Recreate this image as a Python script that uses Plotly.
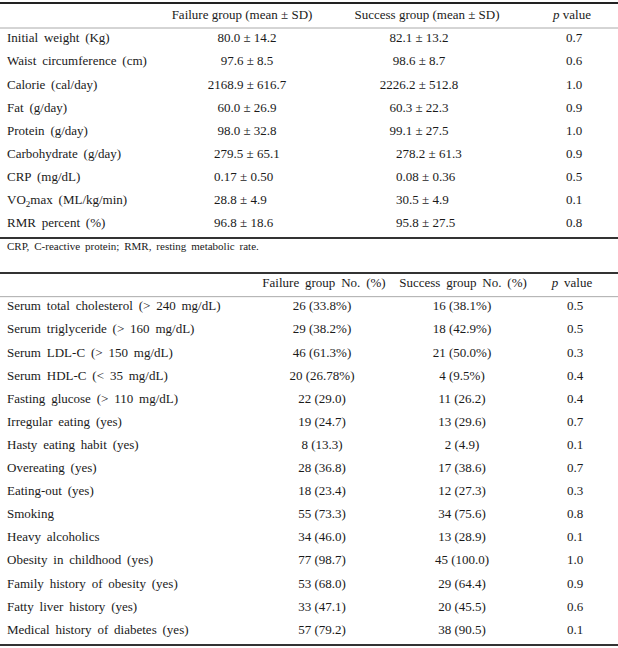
import plotly.graph_objects as go

# Table 1: anthropometric / dietary measures
t1_labels = ["Initial weight (Kg)", "Waist circumference (cm)", "Calorie (cal/day)",
             "Fat (g/day)", "Protein (g/day)", "Carbohydrate (g/day)", "CRP (mg/dL)",
             "VO<sub>2</sub>max (ML/kg/min)", "RMR percent (%)"]
t1_fail = ["80.0 ± 14.2", "97.6 ± 8.5", "2168.9 ± 616.7", "60.0 ± 26.9", "98.0 ± 32.8",
           "279.5 ± 65.1", "0.17 ± 0.50", "28.8 ± 4.9", "96.8 ± 18.6"]
t1_succ = ["82.1 ± 13.2", "98.6 ± 8.7", "2226.2 ± 512.8", "60.3 ± 22.3", "99.1 ± 27.5",
           "278.2 ± 61.3", "0.08 ± 0.36", "30.5 ± 4.9", "95.8 ± 27.5"]
t1_p = ["0.7", "0.6", "1.0", "0.9", "1.0", "0.9", "0.5", "0.1", "0.8"]
t1_head = ["Failure group (mean ± SD)", "Success group (mean ± SD)", "<i>p</i> value"]
t1_note = "CRP, C-reactive protein; RMR, resting metabolic rate."

# Table 2: risk factors
t2_labels = ["Serum total cholesterol (> 240 mg/dL)", "Serum triglyceride (> 160 mg/dL)",
             "Serum LDL-C (> 150 mg/dL)", "Serum HDL-C (< 35 mg/dL)",
             "Fasting glucose (> 110 mg/dL)", "Irregular eating (yes)",
             "Hasty eating habit (yes)", "Overeating (yes)", "Eating-out (yes)", "Smoking",
             "Heavy alcoholics", "Obesity in childhood (yes)", "Family history of obesity (yes)",
             "Fatty liver history (yes)", "Medical history of diabetes (yes)"]
t2_fail = ["26 (33.8%)", "29 (38.2%)", "46 (61.3%)", "20 (26.78%)", "22 (29.0)", "19 (24.7)",
           "8 (13.3)", "28 (36.8)", "18 (23.4)", "55 (73.3)", "34 (46.0)", "77 (98.7)",
           "53 (68.0)", "33 (47.1)", "57 (79.2)"]
t2_succ = ["16 (38.1%)", "18 (42.9%)", "21 (50.0%)", "4 (9.5%)", "11 (26.2)", "13 (29.6)",
           "2 (4.9)", "17 (38.6)", "12 (27.3)", "34 (75.6)", "13 (28.9)", "45 (100.0)",
           "29 (64.4)", "20 (45.5)", "38 (90.5)"]
t2_p = ["0.5", "0.5", "0.3", "0.4", "0.4", "0.7", "0.1", "0.7", "0.3", "0.8", "0.1", "1.0",
        "0.9", "0.6", "0.1"]
t2_head = ["Failure group No. (%)", "Success group No. (%)", "<i>p</i> value"]

W, H = 618, 648
ROW = 23.1          # px per row
Y0 = 16             # px of first header row
T2 = 11.6           # row offset of table 2 header
FONT = dict(family="Liberation Serif, DejaVu Serif, serif", size=13, color="#1a1a1a")


def wide(labels):
    # source typesetting uses loose word spacing
    return [s.replace(" ", " \u2009") for s in labels]


fig = go.Figure()


def col(x, y, text, pos="middle center", size=None):
    f = FONT if size is None else dict(FONT, size=size)
    fig.add_trace(go.Scatter(x=x, y=y, mode="text", text=text, textposition=pos,
                             textfont=f, hoverinfo="skip", showlegend=False))


n1 = len(t1_labels)
r1 = list(range(1, n1 + 1))
col([242, 427, 572], [0, 0, 0], t1_head)
col([7] * n1, r1, wide(t1_labels), "middle right")
# first five rows centred, rest left aligned (as in the source)
col([247] * 5, r1[:5], t1_fail[:5])
col([214] * (n1 - 5), r1[5:], t1_fail[5:], "middle right")
col([419] * 5, r1[:5], t1_succ[:5])
col([396] * (n1 - 5), r1[5:], t1_succ[5:], "middle right")
col([574] * n1, r1, t1_p)
col([7], [10.0], wide([t1_note]), "middle right", size=11)

n2 = len(t2_labels)
r2 = [T2 + i for i in range(1, n2 + 1)]
col([324, 463, 572], [T2] * 3, wide(t2_head))
col([7] * n2, r2, wide(t2_labels), "middle right")
col([322] * n2, r2, t2_fail)
col([462] * n2, r2, t2_succ)
col([575] * n2, r2, t2_p)

# rules (in row units)
rules = [(-0.56, 2, "#222"), (0.52, 1, "#aaa"), (9.61, 2, "#333"),
         (11.13, 2, "#333"), (12.15, 1, "#aaa"), (27.23, 2, "#333")]
for y, w, c in rules:
    fig.add_shape(type="line", x0=0, x1=W, y0=y, y1=y, xref="x", yref="y",
                  line=dict(color=c, width=w))

fig.update_layout(
    width=W, height=H, margin=dict(l=0, r=0, t=0, b=0),
    paper_bgcolor="white", plot_bgcolor="white",
    xaxis=dict(range=[0, W], visible=False, fixedrange=True),
    yaxis=dict(range=[(H - Y0) / ROW, -Y0 / ROW], visible=False, fixedrange=True),
)

fig.write_html("out.html", config={"displayModeBar": False},
               post_script="document.body.style.margin='0px';")
